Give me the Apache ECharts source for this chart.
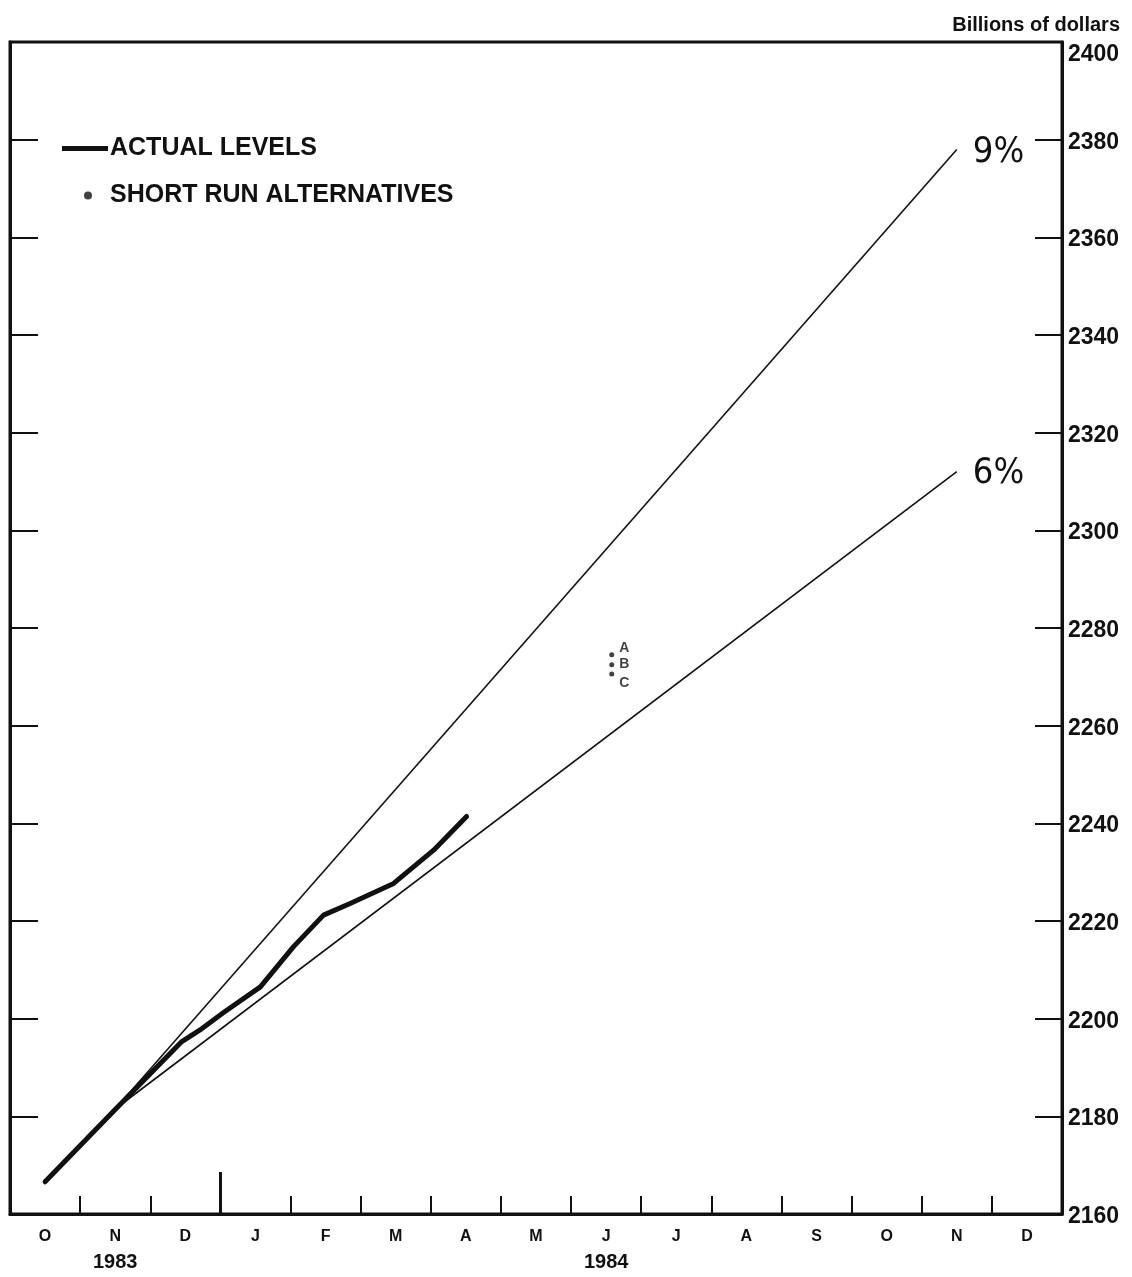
<!DOCTYPE html>
<html>
<head>
<meta charset="utf-8">
<script src="https://cdn.jsdelivr.net/npm/echarts@6/dist/echarts.min.js"></script>
<style>
  html, body { margin: 0; padding: 0; background: #fff; }
  #chart { width: 1132px; height: 1277px; }
</style>
</head>
<body>
<div id="chart"></div>
<script>
// ---- data ----
const months = ['O', 'N', 'D', 'J', 'F', 'M', 'A', 'M', 'J', 'J', 'A', 'S', 'O', 'N', 'D'];
const yearLabels = { 1: '1983', 8: '1984' };
// actual levels: position in months (0 = mid-Oct 1983) and value (billions of dollars)
const actualPos    = [0.0,    1.0,    1.95,   2.21,   2.54,   3.07,   3.54,   3.97,   4.35,   4.97,   5.54,   6.01];
const actualValues = [2166.6, 2181.4, 2195.3, 2197.7, 2201.2, 2206.5, 2214.7, 2221.2, 2223.6, 2227.7, 2234.5, 2241.4];
// growth cones (Q4 1983 base to Q4 1984)
const conePos   = [1, 13];
const cone9     = [2181.5, 2378.0];
const cone6     = [2181.5, 2312.0];
// short-run alternatives
const altPos    = 8.08;
const altValues = [2274.5, 2272.5, 2270.6];
const altNames  = ['A', 'B', 'C'];
const yMin = 2160, yMax = 2400, yStep = 20;
const yearBoundaryPos = 2.5;

// ---- chart ----
const chart = echarts.init(document.getElementById('chart'), null, { renderer: 'canvas' });
const FONT = '"Liberation Sans", Arial, sans-serif';
const NARROW = '"Liberation Sans Narrow", "DejaVu Sans Condensed", "Liberation Sans", sans-serif';

const altOffsets = [[0, -7], [0, 0], [0, 9]];

const option = {
  backgroundColor: '#fff',
  animation: false,
  title: {
    text: 'Billions of dollars',
    right: 7, top: 10,
    textStyle: { fontFamily: FONT, fontSize: 20, fontWeight: 'bold', color: '#111' }
  },
  legend: {
    orient: 'vertical',
    left: 62, top: 136, padding: 0,
    itemWidth: 46, itemHeight: 8, itemGap: 22,
    data: [
      { name: 'ACTUAL LEVELS', icon: 'path://M0,0 M46,8 M0,1.5 L46,1.5 L46,6.5 L0,6.5 Z' },
      { name: 'SHORT RUN ALTERNATIVES', icon: 'path://M0,0 M46,8 M22,4 A4,4 0 1,0 30,4 A4,4 0 1,0 22,4 Z' }
    ],
    textStyle: { fontFamily: FONT, fontSize: 25, fontWeight: 'bold', color: '#111', padding: [0, 0, 0, -3] }
  },
  grid: {
    left: 10, right: 70, top: 42, bottom: 63,
    show: true, borderColor: '#111', borderWidth: 3
  },
  xAxis: [
    {
      type: 'category',
      data: months,
      position: 'bottom',
      boundaryGap: true,
      axisLine: { show: true, onZero: false, lineStyle: { color: '#111', width: 3 } },
      axisTick: { show: true, inside: true, length: 18, interval: 0, lineStyle: { color: '#111', width: 2 } },
      axisLabel: {
        interval: 0, margin: 12,
        formatter: function (v, i) {
          return yearLabels[i] ? '{m|' + v + '}\n{y|' + yearLabels[i] + '}' : '{m|' + v + '}';
        },
        rich: {
          m: { fontFamily: FONT, fontSize: 16, fontWeight: 'bold', color: '#111', lineHeight: 22 },
          y: { fontFamily: FONT, fontSize: 20, fontWeight: 'bold', color: '#111', lineHeight: 28, padding: [0, 0, 0, 0] }
        }
      },
      splitLine: { show: false }
    },
    {
      type: 'value', min: -0.5, max: 14.5, show: false, splitLine: { show: false }
    }
  ],
  yAxis: [
    {
      type: 'value', position: 'right', min: yMin, max: yMax, interval: yStep,
      axisLine: { show: true, onZero: false, lineStyle: { color: '#111', width: 3 } },
      axisTick: { show: true, inside: true, length: 27, lineStyle: { color: '#111', width: 2 } },
      axisLabel: {
        margin: 6, fontFamily: FONT, fontSize: 23, fontWeight: 'bold', color: '#111',
        formatter: function (v) { return v === yMax ? '{t|' + v + '}' : '{n|' + v + '}'; },
        rich: {
          t: { fontFamily: FONT, fontSize: 23, fontWeight: 'bold', color: '#111', padding: [26, 0, 0, 0] },
          n: { fontFamily: FONT, fontSize: 23, fontWeight: 'bold', color: '#111', padding: [5, 0, 0, 0] }
        }
      },
      splitLine: { show: false }
    },
    {
      type: 'value', position: 'left', min: yMin, max: yMax, interval: yStep,
      axisLine: { show: true, onZero: false, lineStyle: { color: '#111', width: 3 } },
      axisTick: { show: true, inside: true, length: 28, lineStyle: { color: '#111', width: 2 } },
      axisLabel: { show: false },
      splitLine: { show: false }
    }
  ],
  series: [
    {
      name: '9%', type: 'line', xAxisIndex: 1, yAxisIndex: 0,
      data: conePos.map((p, i) => [p, cone9[i]]),
      symbol: 'none', lineStyle: { color: '#111', width: 1.6 },
      endLabel: { show: true, formatter: '9%', distance: 16, offset: [0, 3], fontFamily: NARROW, fontSize: 36, color: '#111' },
      z: 2
    },
    {
      name: '6%', type: 'line', xAxisIndex: 1, yAxisIndex: 0,
      data: conePos.map((p, i) => [p, cone6[i]]),
      symbol: 'none', lineStyle: { color: '#111', width: 1.6 },
      endLabel: { show: true, formatter: '6%', distance: 16, offset: [0, 2], fontFamily: NARROW, fontSize: 36, color: '#111' },
      z: 2
    },
    {
      name: 'ACTUAL LEVELS', type: 'line', xAxisIndex: 1, yAxisIndex: 0,
      data: actualPos.map((p, i) => [p, actualValues[i]]),
      symbol: 'none', showSymbol: false, itemStyle: { color: '#111' },
      lineStyle: { color: '#111', width: 5, cap: 'round', join: 'round' },
      markLine: {
        silent: true, symbol: 'none', label: { show: false },
        lineStyle: { color: '#111', width: 3, type: 'solid' },
        data: [[{ coord: [yearBoundaryPos, yMin] }, { coord: [yearBoundaryPos, yMin + 8.6] }]]
      },
      z: 3
    },
    {
      name: 'SHORT RUN ALTERNATIVES', type: 'scatter', xAxisIndex: 1, yAxisIndex: 0,
      symbol: 'circle', symbolSize: 5,
      itemStyle: { color: '#111' },
      data: altValues.map((v, i) => ({
        value: [altPos, v],
        label: { show: true, position: 'right', distance: 5, offset: altOffsets[i], formatter: altNames[i] }
      })),
      label: { fontFamily: FONT, fontSize: 14, fontWeight: 'bold', color: '#111' },
      z: 4
    }
  ]
};
chart.setOption(option);
</script>
</body>
</html>
